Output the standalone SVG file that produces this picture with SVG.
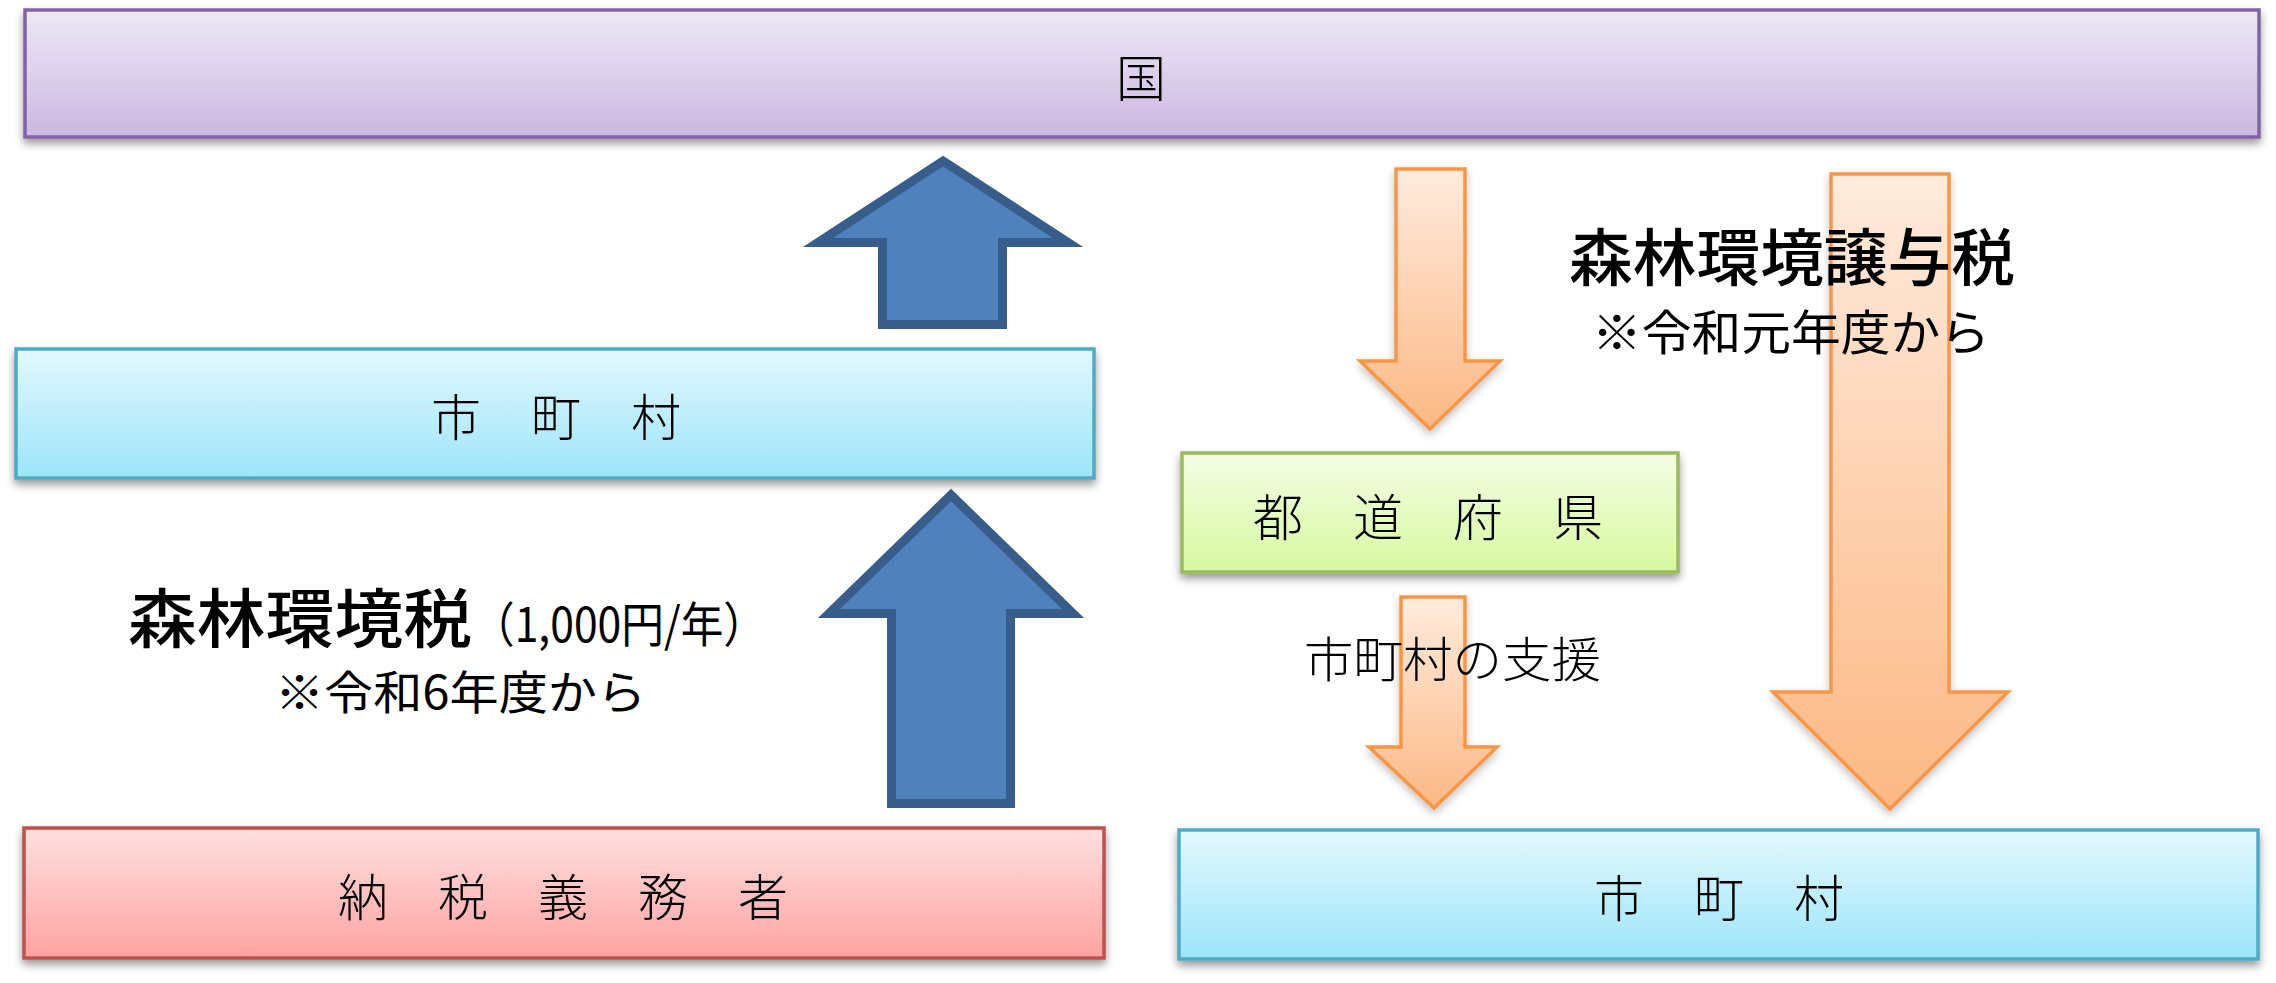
<svg xmlns="http://www.w3.org/2000/svg" width="2276" height="983" viewBox="0 0 2276 983">
<style>
.lbl{font-family:"Noto Sans CJK JP","Noto Sans",sans-serif;fill:#000;}
.box{font-size:50px;text-anchor:middle;dominant-baseline:central;font-weight:300;}
.big{font-weight:500;}
.blue{fill:#4F81BD;stroke:#385D8A;stroke-width:9;stroke-linejoin:miter;}
.orange{fill:url(#gOr);stroke:#F79646;stroke-width:3.5;filter:url(#sh2);}
</style>
<defs>
<linearGradient id="gPur" x1="0" y1="0" x2="0" y2="1"><stop offset="0" stop-color="#EEE8F6"/><stop offset="1" stop-color="#CBB7E1"/></linearGradient>
<linearGradient id="gCy" x1="0" y1="0" x2="0" y2="1"><stop offset="0" stop-color="#E2F8FD"/><stop offset="1" stop-color="#9DE5FA"/></linearGradient>
<linearGradient id="gRed" x1="0" y1="0" x2="0" y2="1"><stop offset="0" stop-color="#FFE0E0"/><stop offset="1" stop-color="#FFA2A2"/></linearGradient>
<linearGradient id="gGr" x1="0" y1="0" x2="0" y2="1"><stop offset="0" stop-color="#F4FDE4"/><stop offset="1" stop-color="#D7F9A0"/></linearGradient>
<linearGradient id="gOr" x1="0" y1="0" x2="0" y2="1"><stop offset="0" stop-color="#FFEBDD"/><stop offset="1" stop-color="#FCB884"/></linearGradient>
<filter id="sh" x="-5%" y="-20%" width="110%" height="150%"><feDropShadow dx="0" dy="5" stdDeviation="4" flood-color="#000" flood-opacity="0.4"/></filter>
<filter id="sh2" x="-20%" y="-10%" width="140%" height="130%"><feDropShadow dx="0" dy="4" stdDeviation="4" flood-color="#000" flood-opacity="0.25"/></filter>
</defs>

<g id="connectors">
<path class="blue" d="M943,161 L1068,242.5 H1002.5 V324.5 H882.5 V242.5 H818 Z"/>
<path class="blue" d="M951,495 L1073,613.5 H1010.5 V803.5 H891.5 V613.5 H829 Z"/>
<path class="orange" d="M1396,169 H1465 V361 H1500 L1430,429 L1360,361 H1396 Z"/>
<path class="orange" d="M1831,174 H1949 V692 H2008 L1890,809 L1773,692 H1831 Z"/>
<path class="orange" d="M1401,597 H1465 V747 H1497 L1434,808 L1369,747 H1401 Z"/>
</g>

<g id="node-kuni">
<rect x="25" y="10" width="2234" height="127" fill="url(#gPur)" stroke="#8064A2" stroke-width="3.5" filter="url(#sh)"/>
<text class="lbl box" x="1141" y="75">国</text>
</g>

<g id="node-shichoson-left">
<rect x="16" y="349" width="1078" height="129" fill="url(#gCy)" stroke="#4BACC6" stroke-width="3.5" filter="url(#sh)"/>
<text class="lbl box" x="556" y="414">市　町　村</text>
</g>

<g id="node-nozei">
<rect x="24" y="828" width="1080" height="130" fill="url(#gRed)" stroke="#C0504D" stroke-width="3.5" filter="url(#sh)"/>
<text class="lbl box" x="563" y="894">納　税　義　務　者</text>
</g>

<g id="node-todofuken">
<rect x="1182" y="453" width="496" height="119" fill="url(#gGr)" stroke="#9BBB59" stroke-width="3.5" filter="url(#sh)"/>
<text class="lbl box" x="1428" y="514">都　道　府　県</text>
</g>

<g id="node-shichoson-right">
<rect x="1179" y="830" width="1079" height="129" fill="url(#gCy)" stroke="#4BACC6" stroke-width="3.5" filter="url(#sh)"/>
<text class="lbl box" x="1719" y="895">市　町　村</text>
</g>

<g id="labels">
<text class="lbl big" x="128" y="642" font-size="64" textLength="344" lengthAdjust="spacingAndGlyphs">森林環境税</text>
<text class="lbl" x="472" y="642" font-size="48" textLength="294" lengthAdjust="spacingAndGlyphs">（1,000円/年）</text>
<text class="lbl" x="275" y="709" font-size="46" textLength="371" lengthAdjust="spacingAndGlyphs">※令和6年度から</text>
<text class="lbl big" x="1569" y="281" font-size="62" textLength="446" lengthAdjust="spacingAndGlyphs">森林環境譲与税</text>
<text class="lbl" x="1592" y="350" font-size="48" textLength="398" lengthAdjust="spacingAndGlyphs">※令和元年度から</text>
<text class="lbl" x="1304" y="677" font-size="48" textLength="297" lengthAdjust="spacingAndGlyphs" font-weight="300">市町村の支援</text>
</g>
</svg>
